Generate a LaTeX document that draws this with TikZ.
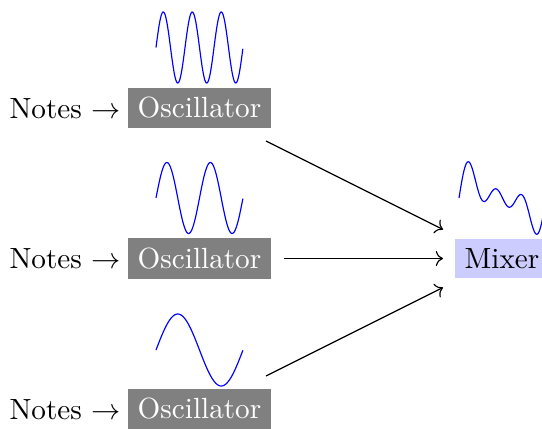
\documentclass[tikz,border=0pt]{standalone}
\usetikzlibrary{arrows.meta}
\begin{document}
\begin{tikzpicture}[x=0.34247pt,y=-0.34247pt,
  osc/.style={fill=black!50,text=white,inner sep=3.333pt},
  mix/.style={fill=blue!20,text=black,inner sep=3.333pt},
  notes/.style={inner sep=0pt,anchor=base west},
  wave/.style={blue,line width=0.4pt},
  conn/.style={->,line width=0.4pt}]
\clip (0,0) rectangle (542,428);
\useasboundingbox (0,0) rectangle (542,428);
% rows
\node[notes] (n1) at (9,118.3) {Notes $\to$};
\node[osc] (o1) at (199.5,108) {Oscillator};
\node[notes] (n2) at (9,268.8) {Notes $\to$};
\node[osc] (o2) at (199.5,258.5) {Oscillator};
\node[notes] (n3) at (9,419.3) {Notes $\to$};
\node[osc] (o3) at (199.5,409) {Oscillator};
\node[mix] (m) at (502,258.5) {Mixer};
% waves
\draw[wave] plot[domain=0:1,samples=150] ({156+87*\x},{47.5-35.5*sin(1080*\x)});
\draw[wave] plot[domain=0:1,samples=120] ({156+87*\x},{198-35.5*sin(720*\x)});
\draw[wave] plot[domain=0:1,samples=100] ({156+87*\x},{350-36*sin(360*\x)});
\draw[wave] plot[domain=0:1,samples=150] ({459+87*\x},{198-14.5*(sin(360*\x)+sin(720*\x)+sin(1080*\x))});
% connectors
\coordinate (s1) at (266,141);
\coordinate (e1) at (443,229.5);
\coordinate (s2) at (284,258.5);
\coordinate (e2) at (443,258.5);
\coordinate (s3) at (266,376);
\coordinate (e3) at (443,287.5);
\draw[conn] (s1) -- (e1);
\draw[conn] (s2) -- (e2);
\draw[conn] (s3) -- (e3);
\end{tikzpicture}
\end{document}
